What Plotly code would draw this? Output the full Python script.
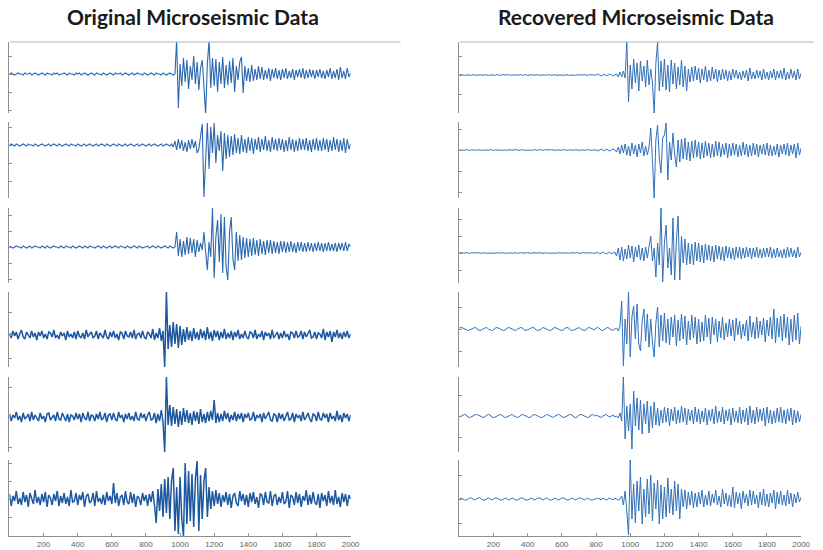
import plotly.graph_objects as go

W, H = 823, 550
SAMPLE_STEP = 10          # one value every 10 samples, samples 0..2000
X_TICKS = list(range(200, 2001, 200))

# ---------------- original (noisy) traces, amplitude in display units ----------------
orig_1 = [
    0, 1, 0, -1, 0, 1, 0, 0, -1, 1, 0, 0, 1, -1, 0, 1, 0, -1, 0, 1,
    0, -1, 1, 0, 0, -1, 1, 0, 1, -1, 0, 0, 1, 0, -1, 1, 0, 0, -1, 1,
    0, 1, -1, 0, 1, 0, -1, 0, 1, 0, -1, 1, 0, 0, -1, 1, 0, -1, 0, 1,
    0, -1, 1, 0, 0, 1, -1, 0, 1, 0, -1, 0, 1, -1, 0, 1, 0, 0, -1, 1,
    0, -1, 0, 1, 0, -1, 1, 0, 0, -1, 1, 0, -1, 0, 1, 0, -1, 0, 34, -34,
    10, -12, 16, -8, 14, -15, 8, -6, 18, -10, 12, -16, 6, 14, -20, -40, 10, 34, -14, 16,
    -12, 15, -18, 12, -10, 17, -14, 9, -11, 13, -9, 16, -18, 8, -6, 12, 17, -19, 8, -7,
    6, -8, 9, -7, 5, -6, 8, -5, 7, -6, 4, -5, 6, -7, 5, -4, 6, -5, 4, -6,
    5, -4, 6, -5, 3, -4, 5, -6, 4, -3, 5, -4, 6, -5, 4, -4, 5, -3, 4, -5,
    4, -3, 5, -4, 3, -5, 4, -3, 6, -5, 3, -4, 5, -6, 7, -4, 3, -5, 6, -3, 1,
]
orig_2 = [
    0, 1, 0, -1, 1, 0, -1, 0, 1, 0, -1, 1, 0, 0, -1, 1, 0, -1, 0, 1,
    0, -1, 0, 1, -1, 0, 1, 0, -1, 1, 0, -1, 0, 1, 0, -1, 1, 0, 0, -1,
    1, 0, -1, 0, 1, -1, 0, 1, 0, -1, 0, 1, -1, 0, 1, 0, -1, 1, 0, -1,
    0, 1, 0, -1, 1, 0, -1, 0, 1, -1, 0, 1, 0, -1, 0, 1, -1, 0, 1, 0,
    -1, 0, 1, -1, 0, 1, 0, -1, 0, 1, -1, 0, 1, 0, -1, 1, -2, 4, -5, 6,
    -4, 5, -6, 3, -7, 5, -4, 6, -3, 4, -8, -4, 10, 21, -52, -10, 22, -24, 18, -8,
    22, -18, 10, -6, 14, -26, 12, -14, 10, -12, 9, -10, 11, -8, 7, -9, 10, -7, 6, -8,
    8, -6, 7, -9, 6, -5, 8, -7, 6, -5, 9, -6, 5, -7, 8, -5, 6, -6, 7, -5,
    6, -7, 5, -6, 8, -5, 6, -7, 5, -6, 7, -5, 6, -5, 7, -6, 5, -7, 6, -5,
    7, -6, 5, -6, 7, -5, 6, -7, 5, -6, 8, -5, 6, -7, 5, -6, 7, -8, 6, -4, 1,
]
orig_3 = [
    1, 0, -1, 0, 1, 0, 0, -1, 1, 0, -1, 0, 1, -1, 0, 1, 0, 0, -1, 1,
    0, -1, 1, 0, -1, 0, 1, 0, 0, -1, 1, 0, -1, 1, 0, 0, -1, 1, 0, -1,
    0, 1, 0, -1, 1, 0, -1, 1, 0, 0, -1, 0, 1, 0, -1, 1, 0, -1, 0, 1,
    -1, 0, 1, 0, -1, 1, 0, 0, -1, 1, 0, -1, 0, 1, 0, -1, 1, 0, -1, 0,
    0, 1, -1, 0, 1, 0, -1, 1, 0, -1, 0, 1, 0, -1, 1, 0, -1, 0, 15, -9,
    8, -10, 6, -8, 10, -7, 9, -6, 8, -10, 7, -5, 4, -3, 15, -5, -23, 5, -10, 39,
    -31, 10, 27, -15, 33, -26, 30, -20, -33, 15, 30, -12, -23, 15, -14, 12, -13, 10, -11, 9,
    -10, 8, -9, 9, -8, 7, -9, 8, -7, 6, -8, 7, -6, 7, -7, 6, -6, 5, -7, 6,
    -5, 6, -6, 5, -5, 6, -5, 4, -6, 5, -4, 5, -5, 4, -5, 5, -4, 4, -5, 4,
    -4, 5, -4, 4, -5, 4, -4, 5, -4, 3, -4, 4, -5, 4, -3, 4, -4, 5, -4, 3, 0,
]
orig_4 = [
    2, -3, 4, -1, 3, -4, 1, 5, -2, -4, 3, 0, -3, 4, -2, 2, -5, 3, -1, 4,
    -3, 1, -4, 3, 2, -2, 5, -3, 0, -4, 3, -1, 2, -5, 4, -2, 1, -3, 3, -4,
    4, -1, -3, 2, -4, 5, -2, 1, 3, -3, -1, 4, -4, 2, 0, -3, 5, -2, -4, 3,
    -2, 4, -3, 1, -5, 3, 2, -4, 4, -1, -2, 3, -3, 5, -4, 1, 2, -3, 4, -2,
    -4, 3, 1, -3, 6, -5, 2, -3, 7, -6, 4, -32, 43, -14, 10, -12, 13, -9, 11, -13,
    9, -10, 6, -7, 8, -5, 4, -6, 7, -4, 3, -5, 6, -3, 4, -5, 8, -4, 3, -6,
    5, -2, 4, -5, 3, -3, 6, -4, 2, -3, 4, -5, 3, -2, 5, -4, 1, -3, 4, -2,
    -4, 3, 2, -3, 5, -4, 1, -2, 4, -5, 3, -1, 2, -4, 5, -3, 0, 3, -4, 2,
    -3, 4, -2, 1, -5, 3, 2, -3, 4, -2, -1, 4, -4, 3, -2, 1, 5, -3, -2, 3,
    -4, 2, 1, -3, 6, -5, 3, -2, 4, -7, 3, -2, 5, -3, 2, -4, 3, -2, 4, -3, 1,
]
orig_5 = [
    3, -4, 2, -1, 5, -3, 1, -5, 4, -2, 0, 3, -4, 5, -3, 2, -1, -4, 4, -2,
    1, -5, 3, 4, -3, -1, 2, -4, 5, -2, -3, 4, 0, -4, 3, -5, 2, 1, -3, 4,
    -2, 3, -5, 4, -1, -3, 5, -4, 2, 1, -4, 3, -2, 5, -3, -1, 4, -5, 2, 3,
    -3, 4, -2, -4, 5, -1, 2, -5, 3, -2, 4, -3, 1, -4, 5, -2, -3, 4, -1, 3,
    -4, 2, 5, -3, -2, 4, -6, 3, -4, 7, -5, -35, 40, -8, 12, -9, 10, -7, 8, -10,
    6, -8, 9, -5, 7, -6, 4, -8, 6, -4, 5, -7, 8, -5, 3, -6, 5, -4, 6, -3,
    17, -6, 4, -5, 3, -4, 6, -2, 4, -5, 2, -3, 5, -4, 3, -2, 4, -5, 3, -1,
    4, -3, -2, 5, -4, 2, -1, 3, -5, 4, -2, 1, 5, -3, -4, 3, 2, -5, 4, -2,
    3, -4, 1, 5, -3, -2, 4, -5, 3, -1, 2, -4, 5, -3, 0, 4, -2, -5, 3, 2,
    -4, 5, -2, -3, 4, -1, 3, -5, 4, -2, 1, -4, 6, -3, 2, -5, 4, -1, 3, -4, 2,
]
orig_6 = [
    5, -7, 3, -2, 8, -5, 1, -6, 7, -3, 4, -8, 6, -1, -5, 9, -4, 2, -6, 5,
    -3, 7, -8, 4, 1, -6, 5, -2, 8, -7, 3, -4, 6, -5, 2, -7, 9, -3, -2, 6,
    -6, 4, -1, 7, -8, 3, 5, -4, -2, 6, -7, 8, -3, 1, -5, 4, -6, 7, -2, 3,
    -5, 16, -4, 6, -7, 2, 4, -6, 8, -3, -5, 7, -4, 5, -8, 3, 1, -6, 6, -2,
    4, -7, 5, -3, 8, -6, -24, 10, -12, 15, -18, 20, -14, 22, -20, 18, 31, -32, 12, -35,
    22, -20, -37, 36, -25, 28, -22, 25, -28, 20, 38, -32, 24, -20, 18, 31, -18, 12, -10, 8,
    -7, 9, -5, 6, -8, 4, -3, 7, -6, 5, -9, 3, 6, -4, -7, 8, -2, 5, -6, 4,
    -8, 6, -3, 7, -5, 2, -9, 5, 4, -6, 7, -3, -4, 8, -7, 3, 5, -6, 2, -4,
    7, -5, -3, 8, -9, 4, 2, -6, 7, -4, 5, -8, 3, -2, 9, -6, 4, -5, 7, -3,
    -6, 5, -9, 6, -2, 4, -7, 8, -4, 3, -6, 9, -5, 2, -8, 6, -3, 5, -7, 4, 0,
]

# ---------------- recovered (denoised) traces ----------------
rec_1 = [
    0, 0.4, 0, -0.4, 0, 0.3, 0, -0.3, 0.4, 0, -0.4, 0, 0.3, 0, -0.3, 0.4, 0, -0.4, 0, 0.3,
    0, -0.3, 0.4, 0, -0.4, 0.3, 0, -0.3, 0, 0.4, -0.4, 0, 0.3, 0, -0.3, 0, 0.4, -0.3, 0, 0.3,
    -0.4, 0, 0.3, 0, -0.3, 0.4, 0, -0.4, 0, 0.3, 0, -0.3, 0.4, 0, -0.4, 0, 0.3, -0.3, 0, 0.4,
    0, -0.4, 0, 0.3, -0.3, 0, 0.4, 0, -0.4, 0.3, 0, -0.3, 0, 0.4, 0, -0.4, 0.3, 0, -0.3, 0,
    0, 1, 0, -1, 0, 1, -1, 0, 1, 0, -1, 0, 1, -2, 3, -2, 4, -3, 33, -27,
    10, -14, 16, -8, 12, -16, 14, -6, 9, -12, 15, -10, 6, -8, -38, 12, 33, -16, 14, -12,
    16, -15, 10, -17, 15, -9, 12, -14, 8, -10, 15, -12, 9, -16, 6, -7, 8, -6, 9, -5,
    7, -8, 6, -5, 9, -7, 5, -6, 8, -4, 6, -7, 5, -5, 6, -4, 5, -6, 4, -5,
    6, -3, 5, -4, 3, -5, 4, -3, 5, -6, 7, -4, 3, -4, 5, -3, 4, -5, 6, -4,
    3, -5, 4, -3, 6, -5, 4, -3, 5, -4, 7, -5, 3, -4, 6, -3, 4, -5, 6, -4, 2,
]
rec_2 = [
    0, 0.3, 0, -0.3, 0.4, 0, -0.4, 0, 0.3, 0, -0.3, 0.4, 0, -0.4, 0, 0.3, 0, -0.3, 0.4, 0,
    -0.4, 0, 0.3, 0, -0.3, 0, 0.4, 0, -0.4, 0.3, 0, -0.3, 0, 0.4, 0, -0.4, 0, 0.3, -0.3, 0,
    0.4, 0, -0.4, 0, 0.3, 0, -0.3, 0.4, 0, -0.4, 0.3, 0, -0.3, 0, 0.4, 0, -0.4, 0, 0.3, 0,
    -0.3, 0.4, 0, -0.4, 0, 0.3, 0, -0.3, 0.4, 0, -0.4, 0, 0.3, 0, -0.3, 0.4, 0, -0.4, 0, 0.3,
    0, -1, 0, 1, 0, -1, 1, 0, -1, 0, 1, 0, -2, 3, -4, 5, -3, 6, -5, 4,
    -6, 7, -4, 5, -7, 6, -3, 8, -6, 4, -5, 3, 22, -10, -48, 10, 25, -8, -23, 12,
    15, 27, -30, 8, -10, 17, -5, -17, 10, -12, 11, -9, 12, -10, 8, -11, 9, -8, 10, -7,
    8, -9, 7, -8, 9, -6, 7, -8, 6, -7, 9, -6, 8, -7, 6, -5, 7, -8, 6, -6,
    7, -5, 6, -7, 5, -6, 8, -5, 6, -7, 5, -6, 7, -5, 6, -7, 5, -4, 6, -5,
    7, -6, 5, -6, 4, -5, 6, -7, 5, -4, 6, -5, 7, -6, 5, -4, 6, -8, 7, -5, 2,
]
rec_3 = [
    0.3, 0, -0.3, 0, 0.4, 0, -0.4, 0.3, 0, -0.3, 0, 0.4, 0, -0.4, 0, 0.3, -0.3, 0, 0.4, 0,
    -0.4, 0, 0.3, 0, -0.3, 0.4, 0, -0.4, 0, 0.3, 0, -0.3, 0, 0.4, -0.4, 0, 0.3, 0, -0.3, 0,
    0.4, 0, -0.4, 0.3, 0, -0.3, 0, 0.4, 0, -0.4, 0, 0.3, -0.3, 0, 0.4, 0, -0.4, 0, 0.3, 0,
    -0.3, 0, 0.4, 0, -0.4, 0.3, 0, -0.3, 0, 0.4, 0, -0.4, 0.3, 0, -0.3, 0, 0.4, 0, -0.4, 0,
    0, 1, -1, 0, 1, 0, -1, 0, 1, -1, 0, 1, -3, 5, -7, 6, -8, 4, -6, 8,
    -5, 7, -9, 6, -4, 8, -7, 5, -8, 6, -5, 4, 17, -8, 5, -24, 10, -12, 45, -29,
    10, 28, -15, 5, -22, 35, -27, 12, 37, -27, 17, -10, 14, -12, 10, -11, 9, -12, 11, -8,
    10, -9, 8, -10, 9, -7, 8, -8, 7, -9, 8, -6, 7, -7, 6, -8, 7, -5, 6, -6,
    5, -7, 6, -5, 6, -6, 5, -5, 6, -4, 5, -6, 5, -4, 6, -5, 4, -5, 5, -4,
    5, -4, 6, -5, 4, -5, 5, -4, 3, -5, 4, -5, 6, -4, 5, -4, 3, -5, 6, -4, 1,
]
rec_4 = [
    1, 1.5, 1, 0, -1, -1.5, -1, 0, 1, 1.5, 1, -1, -1.5, -1, 0, 1, 1.5, 0, -1, -1.5,
    -1, 1, 1.5, 1, 0, -1, -1.5, -1, 1, 1.5, 1, 0, -1, -1.5, 0, 1, 1.5, 1, -1, -1.5,
    -1, 0, 1, 1.5, 1, -1, -1.5, -1, 0, 1.5, 1, 0, -1, -1.5, -1, 1, 1.5, 1, 0, -1,
    -1.5, -1, 1, 1.5, 1, -1, -1.5, -1, 0, 1, 1.5, 0, -1, -1.5, -1, 1, 1.5, 1, 0, -1,
    1, 1.5, 0, -1, -1.5, 0, 1, 1.5, 0, -1, -1, 0, 1, -2, 3, 28, -37, 10, -15, 37,
    -28, 12, 23, -10, 25, -15, -22, 8, 20, -12, 15, -18, 10, -14, -28, 6, 22, -18, 14, -12,
    16, -14, 10, -16, 12, -8, 14, -17, 9, -12, 15, -10, 13, -16, 8, -11, 14, -9, 12, -15,
    10, -13, 7, -12, 14, -8, 11, -15, 12, -6, 10, -13, 8, -9, 12, -11, 6, -8, 10, -7,
    9, -12, 11, -6, 8, -10, 5, -7, 9, -12, 13, -8, 7, -10, 12, -9, 8, -6, 11, -13,
    9, -7, 12, -10, 20, -14, 11, -8, 13, -12, 15, -9, 12, -16, 10, -13, 14, -11, 16, -15, 3,
]
rec_5 = [
    -1, 0, 1, 1.5, 1, -1, -1.5, -1, 0, 1, 1.5, 1, 0, -1, -1.5, -1, 1, 1.5, 1, -1,
    -1.5, -1, 0, 1, 1.5, 1, -1, -1.5, -1, 0, 1, 1.5, 0, -1, -1.5, -1, 1, 1.5, 1, 0,
    -1, -1.5, -1, 1, 1.5, 1, 0, -1, -1.5, -1, 0, 1.5, 1, 0, -1, -1.5, 0, 1, 1.5, 1,
    -1, -1.5, -1, 0, 1, 1.5, 1, -1, -1.5, -1, 1, 1.5, 1, 0, -1, -1.5, -1, 1, 1.5, 0,
    1, 0, -1, -1.5, 0, 1, 1.5, 0, -1, 0, 1, -1, 0, -2, 3, -5, 39, -23, 10, -15,
    12, -33, 25, -10, 18, -14, 16, -18, 12, -8, 15, -17, 10, -12, 14, -9, 8, -10, 6, -7,
    9, -6, 8, -10, 7, -5, 9, -8, 6, -7, 10, -6, 8, -9, 7, -5, 6, -8, 9, -6,
    7, -8, 5, -6, 8, -9, 6, -5, 7, -8, 10, -7, 5, -6, 9, -8, 6, -5, 7, -9,
    8, -6, 5, -7, 9, -8, 6, -6, 8, -9, 10, -7, 6, -8, 9, -6, 7, -5, 8, -10,
    9, -7, 6, -8, 5, -7, 8, -6, 9, -7, 6, -8, 7, -5, 8, -9, 6, -7, 5, -6, 2,
]
rec_6 = [
    0, 1, 0, -1, -1, 0, 1, 1, 0, -1, 0, 1, 1.5, 0, -1, -1, 0, 1, 0, -1,
    0, 1, 1, 0, -1, -1, 0, 1, 0, -1, 0, 1, 0, -1, -1, 0, 1, 1, 0, -1,
    -1, 0, 1, 0, -1, 0, 1, 1, 0, -1, 0, 1, 0, -1, -1, 0, 1, 0, -1, 0,
    1, 1, 0, -1, -1, 0, 1, 0, -1, 0, 1, 1, 0, -1, 0, 1, 0, -1, -1, 0,
    0, 1, 0, -1, 1, 0, -1, 0, 1, 0, -1, 1, 0, -1, 0, 3, -6, 8, -12, -36,
    39, -20, 15, -24, 18, -12, 22, -25, 10, -18, 20, -15, 24, -22, 16, -10, 19, -25, 14, -20,
    12, -18, 21, -14, 10, -16, 18, -12, 15, -20, 10, -8, 9, -10, 7, -6, 8, -9, 6, -8,
    7, -5, 9, -8, 4, -6, 8, -7, 5, -4, 9, -6, 3, -8, 10, -5, 6, -7, 4, -8,
    12, -9, 7, -5, 6, -10, 8, -4, 5, -7, 9, -6, 8, -5, 4, -9, 7, -6, 10, -7,
    5, -8, 6, -4, 9, -10, 7, -5, 8, -6, 4, -7, 9, -5, 6, -8, 5, -4, 7, -3, 2,
]

# ---------------- layout geometry (pixels) ----------------
ROWS = [(42, 113), (122, 198), (208, 283), (292, 367), (377, 452), (460, 536)]
PANELS = [
    dict(title="Original Microseismic Data", title_x=195, x0=9.6, x1=354.5,
         base=[74, 145, 247, 335, 417, 499], tick=[18, 18, 16, 23, 30, 18],
         traces=[orig_1, orig_2, orig_3, orig_4, orig_5, orig_6],
         colors=["#2a68b0"] * 3 + ["#1c589f"] * 3,
         widths=[1.1] * 3 + [1.5] * 3,
         border=(10, 405)),
    dict(title="Recovered Microseismic Data", title_x=643, x0=464.4, x1=810,
         base=[75, 150, 253, 329, 416, 499], tick=[19, 21, 17, 22, 21, 24],
         traces=[rec_1, rec_2, rec_3, rec_4, rec_5, rec_6],
         colors=["#3271b8"] * 6,
         widths=[1.0] * 6,
         border=(465, 823)),
]
AXIS_COLOR = "#8f8f8f"

fig = go.Figure()
layout = dict(width=W, height=H, margin=dict(l=0, r=0, t=0, b=0),
              paper_bgcolor="white", plot_bgcolor="white", showlegend=False,
              shapes=[], annotations=[])

for p, panel in enumerate(PANELS):
    for r, (top, bot) in enumerate(ROWS):
        k = p * 6 + r + 1
        sx = "" if k == 1 else str(k)
        vals = panel["traces"][r]
        xs = [SAMPLE_STEP * i for i in range(len(vals))]
        fig.add_trace(go.Scatter(
            x=xs, y=vals, mode="lines", xaxis="x" + sx, yaxis="y" + sx,
            line=dict(color=panel["colors"][r], width=panel["widths"][r]),
            hoverinfo="skip"))

        base = panel["base"][r]
        lo, hi = base - bot, base - top
        step = panel["tick"][r]
        tv = [t * step for t in range(int(lo // step), int(hi // step) + 1)
              if lo < t * step < hi]

        xa = dict(domain=[panel["x0"] / W, panel["x1"] / W], range=[0, 2000],
                  anchor="y" + sx, showgrid=False, zeroline=False, fixedrange=True)
        if r == len(ROWS) - 1:
            xa.update(showline=True, linecolor=AXIS_COLOR, linewidth=1,
                      ticks="inside", ticklen=3, tickcolor=AXIS_COLOR,
                      tickvals=X_TICKS, ticktext=[str(v) for v in X_TICKS],
                      tickfont=dict(family="Liberation Sans", size=8, color="#606060"))
        else:
            xa.update(visible=False)
        layout["xaxis" + sx] = xa

        layout["yaxis" + sx] = dict(
            domain=[1 - bot / H, 1 - top / H], range=[lo, hi], anchor="x" + sx,
            showline=True, linecolor=AXIS_COLOR, linewidth=1,
            ticks="inside", ticklen=3, tickcolor=AXIS_COLOR, tickvals=tv,
            showticklabels=False, showgrid=False, zeroline=False, fixedrange=True)

    # top frame line of each panel
    bx0, bx1 = panel["border"]
    layout["shapes"].append(dict(type="line", xref="paper", yref="paper",
                                 x0=bx0 / W, x1=bx1 / W, y0=1 - 42 / H, y1=1 - 42 / H,
                                 line=dict(color="#b5b5b5", width=1)))
    layout["annotations"].append(dict(
        text="<b>%s</b>" % panel["title"], xref="paper", yref="paper",
        x=panel["title_x"] / W, y=1 - 17 / H, xanchor="center", yanchor="middle",
        showarrow=False, font=dict(family="Lato", size=21, color="#1a1a1a")))

fig.update_layout(**layout)
fig.write_html("out.html")
